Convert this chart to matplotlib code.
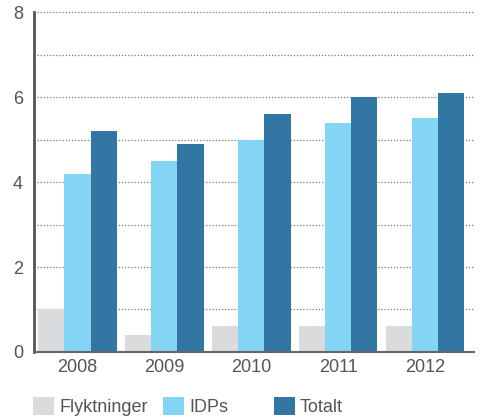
import matplotlib.pyplot as plt
import numpy as np
from matplotlib.patches import Patch

years = ['2008', '2009', '2010', '2011', '2012']
flyktninger = [1.0, 0.4, 0.6, 0.6, 0.6]
idps = [4.2, 4.5, 5.0, 5.4, 5.5]
totalt = [5.2, 4.9, 5.6, 6.0, 6.1]

labels = ['Flyktninger', 'IDPs', 'Totalt']
colors = ['#D9DBDD', '#84D5F5', '#3276A4']

plt.rcParams['font.family'] = ['Liberation Sans', 'DejaVu Sans']
text_col = '#555555'

fig = plt.figure(figsize=(4.83, 4.20), dpi=100)
ax = fig.add_axes([0.0704, 0.162, 0.911, 0.809])

x = np.arange(len(years))
w = 0.3
for i, vals in enumerate([flyktninger, idps, totalt]):
    ax.bar(x + (i - 1) * w, vals, w, color=colors[i], zorder=2, linewidth=0)

ax.set_xlim(-0.5, 4.56)
ax.set_ylim(0, 8)
ax.set_yticks([0, 2, 4, 6, 8])
ax.set_yticks(np.arange(1, 8, 2), minor=True)
ax.set_xticks(x)
ax.set_xticklabels(years)
ax.grid(axis='y', which='both', linestyle=(0, (1, 1.5)), color='#777777', linewidth=0.9, zorder=0)
ax.tick_params(axis='both', which='both', length=0, labelsize=13, colors=text_col)
ax.tick_params(axis='y', pad=8)
ax.tick_params(axis='x', pad=5)

for s in ['top', 'right']:
    ax.spines[s].set_visible(False)
ax.spines['left'].set_color('#555555')
ax.spines['left'].set_linewidth(2)
ax.spines['bottom'].set_color('#666666')
ax.spines['bottom'].set_linewidth(1.5)

# one legend per entry so the spacing can follow the original
for lab, c, xpos in zip(labels, colors, [0.068, 0.337, 0.567]):
    leg = fig.legend([Patch(facecolor=c, edgecolor='none')], [lab], loc='lower left',
                     bbox_to_anchor=(xpos, 0.01), frameon=False, fontsize=13,
                     handlelength=1.15, handleheight=1.15, handletextpad=0.3,
                     borderpad=0, borderaxespad=0)
    for t in leg.get_texts():
        t.set_color(text_col)

fig.savefig('out.png', dpi=100)
